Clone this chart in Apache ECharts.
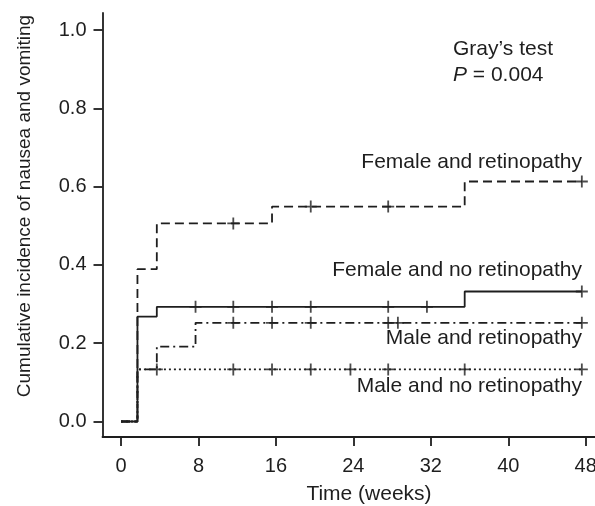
<!DOCTYPE html>
<html>
<head>
<meta charset="utf-8">
<script src="https://cdn.jsdelivr.net/npm/echarts@6/dist/echarts.min.js"></script>
<style>
  html, body { margin: 0; padding: 0; background: #fff; }
  #chart { width: 595px; height: 506px; }
</style>
</head>
<body>
<div id="chart"></div>
<script>
// step curves (time in weeks, cumulative incidence)
const femRetTimes = [0, 1.7, 3.7, 15.6, 35.5, 47.6];
const femRetValues = [0, 0.389, 0.506, 0.549, 0.613, 0.613];
const femRetCensor = [11.6, 19.6, 27.6, 47.6];

const femNoRetTimes = [0, 1.7, 3.7, 35.5, 47.6];
const femNoRetValues = [0, 0.268, 0.293, 0.332, 0.332];
const femNoRetCensor = [7.7, 11.6, 15.6, 19.6, 27.6, 31.6, 47.6];

const maleRetTimes = [0, 1.7, 3.7, 7.7, 47.6];
const maleRetValues = [0, 0.133, 0.191, 0.252, 0.252];
const maleRetCensor = [11.6, 15.6, 19.6, 27.6, 28.6, 47.6];

const maleNoRetTimes = [0, 1.7, 47.6];
const maleNoRetValues = [0, 0.133, 0.133];
const maleNoRetCensor = [3.7, 11.6, 15.6, 19.6, 23.7, 27.6, 35.5, 47.6];

const xTicks = [0, 8, 16, 24, 32, 40, 48];
const yTicks = [0, 0.2, 0.4, 0.6, 0.8, 1.0];

const ink = '#1e1e1e';
const plus = 'path://M0,5.1h12v1.8h-12z M5.1,0h1.8v12h-1.8z';

function pairs(times, values) {
  return times.map((t, i) => [t, values[i]]);
}
// level of the step curve at time t
function levelAt(times, values, t) {
  let v = values[0];
  for (let i = 0; i < times.length; i++) {
    if (times[i] <= t) v = values[i];
  }
  return v;
}
function censorPts(times, values, cens) {
  return cens.map(t => [t, levelAt(times, values, t)]);
}

const groups = [
  { name: 'Female and retinopathy', t: femRetTimes, v: femRetValues, c: femRetCensor, dash: [9, 5] },
  { name: 'Female and no retinopathy', t: femNoRetTimes, v: femNoRetValues, c: femNoRetCensor, dash: 'solid' },
  { name: 'Male and retinopathy', t: maleRetTimes, v: maleRetValues, c: maleRetCensor, dash: [9, 4, 2, 4] },
  { name: 'Male and no retinopathy', t: maleNoRetTimes, v: maleNoRetValues, c: maleNoRetCensor, dash: [2, 3] }
];

const series = [];
groups.forEach(g => {
  series.push({
    name: g.name,
    type: 'line',
    step: 'end',
    showSymbol: false,
    data: pairs(g.t, g.v),
    lineStyle: { color: ink, width: 1.8, type: g.dash },
    silent: true,
    z: 2
  });
  series.push({
    name: g.name + ' censored',
    type: 'scatter',
    symbol: plus,
    symbolSize: [12, 12],
    data: censorPts(g.t, g.v, g.c),
    itemStyle: { color: ink },
    silent: true,
    z: 3
  });
});

const font = 'Liberation Sans, Arial, Helvetica, sans-serif';

const chart = echarts.init(document.getElementById('chart'));
chart.setOption({
  animation: false,
  backgroundColor: '#fff',
  grid: { left: 102.5, right: 0, top: 13, bottom: 69, outerBoundsMode: 'none', containLabel: false },
  xAxis: {
    type: 'value',
    min: -1.91,
    max: 48.96,
    splitLine: { show: false },
    axisLine: { show: true, onZero: false, lineStyle: { color: ink, width: 1.8 } },
    axisTick: { show: true, customValues: xTicks, length: 9, lineStyle: { color: ink, width: 1.8 } },
    axisLabel: { customValues: xTicks, color: ink, fontSize: 20, fontFamily: font, margin: 19, hideOverlap: false }
  },
  yAxis: {
    type: 'value',
    min: -0.0396,
    max: 1.0434,
    splitLine: { show: false },
    axisLine: { show: true, onZero: false, lineStyle: { color: ink, width: 1.8 } },
    axisTick: { show: true, customValues: yTicks, length: 9, lineStyle: { color: ink, width: 1.8 } },
    axisLabel: {
      customValues: yTicks, color: ink, fontSize: 20, fontFamily: font, margin: 16,
      formatter: v => v.toFixed(1)
    }
  },
  graphic: [
    { type: 'text', x: 369, y: 494, style: { text: 'Time (weeks)', fill: ink, font: '21px ' + font, align: 'center', verticalAlign: 'middle' } },
    { type: 'text', x: 25, y: 206, rotation: Math.PI / 2, style: { text: 'Cumulative incidence of nausea and vomiting', fill: ink, font: '19px ' + font, align: 'center', verticalAlign: 'middle' } },
    { type: 'text', x: 453, y: 49, style: { text: 'Gray\u2019s test', fill: ink, font: '21px ' + font, align: 'left', verticalAlign: 'middle' } },
    { type: 'text', x: 453, y: 75, style: {
        text: '{i|P} = 0.004', fill: ink, font: '21px ' + font, align: 'left', verticalAlign: 'middle',
        rich: { i: { fontStyle: 'italic', fontSize: 21, fontFamily: font, fill: ink } }
      } },
    { type: 'text', x: 582, y: 162, style: { text: groups[0].name, fill: ink, font: '21px ' + font, align: 'right', verticalAlign: 'middle' } },
    { type: 'text', x: 582, y: 270, style: { text: groups[1].name, fill: ink, font: '21px ' + font, align: 'right', verticalAlign: 'middle' } },
    { type: 'text', x: 582, y: 338, style: { text: groups[2].name, fill: ink, font: '21px ' + font, align: 'right', verticalAlign: 'middle' } },
    { type: 'text', x: 582, y: 386, style: { text: groups[3].name, fill: ink, font: '21px ' + font, align: 'right', verticalAlign: 'middle' } }
  ],
  series: series
});
</script>
</body>
</html>
